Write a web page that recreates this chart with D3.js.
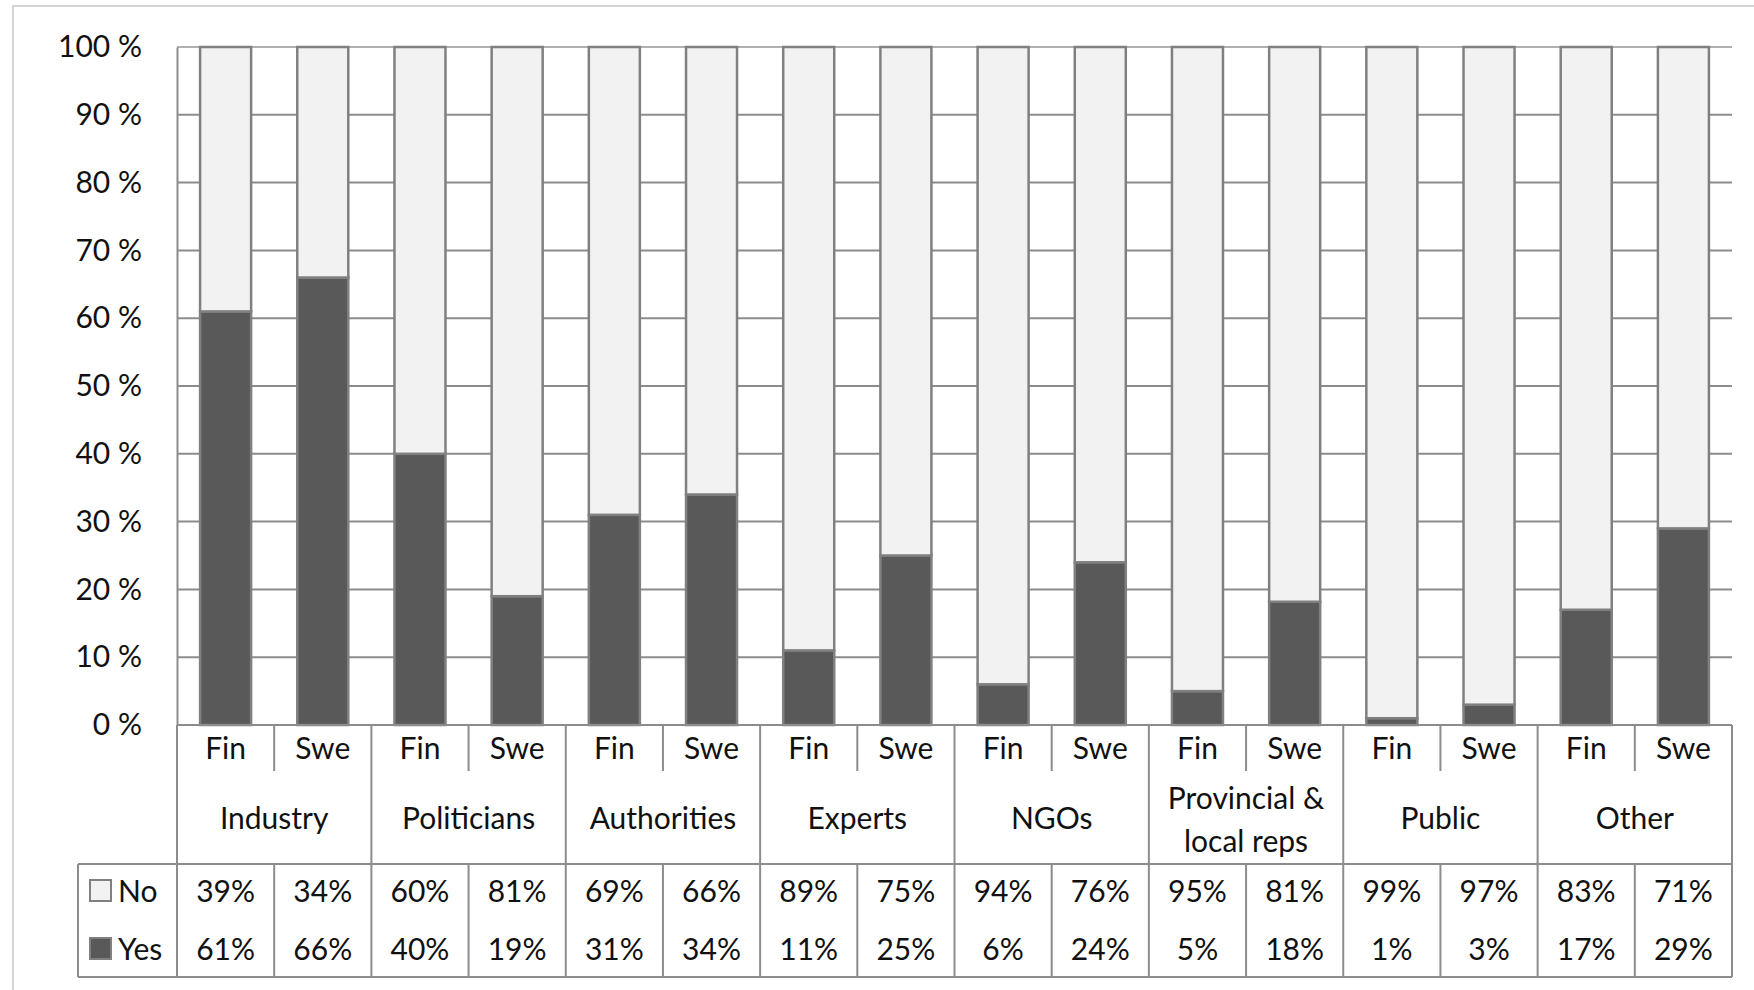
<!DOCTYPE html>
<html>
<head>
<meta charset="utf-8">
<script src="https://cdn.jsdelivr.net/npm/d3@7"></script>
<style>
  html, body { margin: 0; padding: 0; background: #fff; }
  svg { display: block; }
  text { font-family: Lato, "Noto Sans", sans-serif; fill: #111; }
</style>
</head>
<body>
<svg id="chart" width="1754" height="990"></svg>
<script>
const groups = ["Industry", "Politicians", "Authorities", "Experts", "NGOs", ["Provincial &", "local reps"], "Public", "Other"];
const countries = ["Fin", "Swe"];
const noValues  = [39, 34, 60, 81, 69, 66, 89, 75, 94, 76, 95, 81, 99, 97, 83, 71];
const yesValues = [61, 66, 40, 19, 31, 34, 11, 25, 6, 24, 5, 18, 1, 3, 17, 29];
const yTicks = [0, 10, 20, 30, 40, 50, 60, 70, 80, 90, 100];
const seriesNames = ["No", "Yes"];
const seriesColors = { No: "#f2f2f2", Yes: "#595959" };

const svg = d3.select("#chart");
const L = 177, R = 1732, T = 47, B = 725;
const tableTop = 864, tableBottom = 977, tableLeft = 78;
const lineColor = "#8c8c8c";

// outer frame (cropped)
svg.append("path").attr("d", `M13,990 V6 H1754`).attr("fill", "none")
  .attr("stroke", "#d4d4d4").attr("stroke-width", 2);

const rows = noValues.map((n, i) => ({
  idx: i, group: Math.floor(i / 2), country: countries[i % 2], No: n, Yes: yesValues[i]
}));

const x = d3.scaleBand().domain(d3.range(rows.length)).range([L, R])
  .paddingInner(0.475).paddingOuter(0.2375);
const xg = d3.scaleBand().domain(d3.range(groups.length)).range([L, R]);
const y = d3.scaleLinear().domain([0, 100]).range([B, T]);

// gridlines
svg.append("g").selectAll("line").data(yTicks.filter(t => t > 0)).join("line")
  .attr("x1", L).attr("x2", R).attr("y1", d => y(d)).attr("y2", d => y(d))
  .attr("stroke", d => d === 100 ? "#b0b0b0" : lineColor).attr("stroke-width", 2);

// y axis
const yAxis = d3.axisLeft(y).tickValues(yTicks).tickSize(0).tickPadding(35)
  .tickFormat(d => d + " %");
const gy = svg.append("g").attr("transform", `translate(${L},0)`).call(yAxis);
gy.select(".domain").attr("stroke", lineColor).attr("stroke-width", 2);
gy.selectAll("text").style("font-size", "30px").style("font-family", "Lato, 'Noto Sans', sans-serif").attr("fill", "#111");

// 100% stacked bars (normalised)
const stack = d3.stack().keys(["Yes", "No"]).offset(d3.stackOffsetExpand)(rows);
svg.append("g").selectAll("g").data(stack).join("g")
  .attr("fill", d => seriesColors[d.key])
  .selectAll("rect").data(d => d).join("rect")
  .attr("x", d => x(d.data.idx))
  .attr("width", x.bandwidth())
  .attr("y", d => y(d[1] * 100))
  .attr("height", d => y(d[0] * 100) - y(d[1] * 100))
  .attr("stroke", "#808080").attr("stroke-width", 2.5);

// x axis baseline
svg.append("line").attr("x1", L).attr("x2", R).attr("y1", B).attr("y2", B)
  .attr("stroke", lineColor).attr("stroke-width", 2);

// category area lines
const lines = svg.append("g").attr("stroke", lineColor).attr("stroke-width", 2);
d3.range(groups.length + 1).forEach(g => {
  const gx = g < groups.length ? xg(g) : R;
  lines.append("line").attr("x1", gx).attr("x2", gx).attr("y1", B).attr("y2", tableBottom);
});
d3.range(groups.length).forEach(g => {
  const mx = xg(g) + xg.bandwidth() / 2;
  lines.append("line").attr("x1", mx).attr("x2", mx).attr("y1", B).attr("y2", 771);
  lines.append("line").attr("x1", mx).attr("x2", mx).attr("y1", tableTop).attr("y2", tableBottom);
});
lines.append("line").attr("x1", tableLeft).attr("x2", R).attr("y1", tableTop).attr("y2", tableTop);
lines.append("line").attr("x1", tableLeft).attr("x2", R).attr("y1", tableBottom).attr("y2", tableBottom);
lines.append("line").attr("x1", tableLeft).attr("x2", tableLeft).attr("y1", tableTop).attr("y2", tableBottom);

// Fin / Swe labels
svg.append("g").selectAll("text").data(rows).join("text")
  .attr("x", d => x(d.idx) + x.bandwidth() / 2).attr("y", 747)
  .attr("text-anchor", "middle").attr("dominant-baseline", "central")
  .style("font-size", "30px").text(d => d.country);

// group labels
const gl = svg.append("g").selectAll("text").data(groups).join("text")
  .attr("x", (d, i) => xg(i) + xg.bandwidth() / 2)
  .attr("text-anchor", "middle").style("font-size", "30px");
gl.each(function(d) {
  const t = d3.select(this);
  if (Array.isArray(d)) {
    d.forEach((line, k) => t.append("tspan").attr("x", t.attr("x"))
      .attr("y", 797 + k * 43).attr("dominant-baseline", "central").text(line));
  } else {
    t.attr("y", 817).attr("dominant-baseline", "central").text(d);
  }
});

// data table values + legend keys
const rowY = { No: 890, Yes: 948 };
seriesNames.forEach(s => {
  svg.append("g").selectAll("text").data(rows).join("text")
    .attr("x", d => x(d.idx) + x.bandwidth() / 2).attr("y", rowY[s])
    .attr("text-anchor", "middle").attr("dominant-baseline", "central")
    .style("font-size", "30px").text(d => d[s] + "%");
  svg.append("rect").attr("x", 90).attr("y", rowY[s] - 10).attr("width", 21).attr("height", 21)
    .attr("fill", seriesColors[s]).attr("stroke", "#808080").attr("stroke-width", 2);
  svg.append("text").attr("x", 118).attr("y", rowY[s]).attr("dominant-baseline", "central")
    .style("font-size", "30px").text(s);
});
</script>
</body>
</html>
